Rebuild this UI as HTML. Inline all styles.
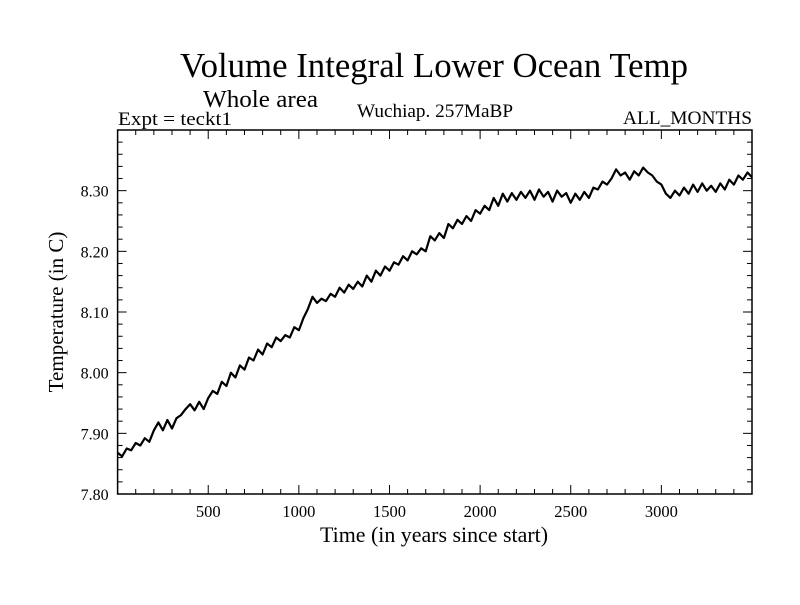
<!DOCTYPE html>
<html><head><meta charset="utf-8"><style>
html,body{margin:0;padding:0;background:#fff}
svg text{font-family:"Liberation Serif",serif;fill:#000}
</style></head><body>
<svg id="chart" width="800" height="600" viewBox="0 0 800 600" xmlns="http://www.w3.org/2000/svg">
<text x="434" y="77" font-size="35" text-anchor="middle" textLength="508" lengthAdjust="spacingAndGlyphs">Volume Integral Lower Ocean Temp</text>
<text x="203" y="107" font-size="24" textLength="115" lengthAdjust="spacingAndGlyphs">Whole area</text>
<text x="118" y="125" font-size="19" textLength="114" lengthAdjust="spacingAndGlyphs">Expt = teckt1</text>
<text x="357" y="117" font-size="19" textLength="156" lengthAdjust="spacingAndGlyphs">Wuchiap. 257MaBP</text>
<text x="623" y="124" font-size="19" textLength="129" lengthAdjust="spacingAndGlyphs">ALL_MONTHS</text>
<text transform="translate(63,312) rotate(-90)" font-size="21" text-anchor="middle">Temperature (in C)</text>
<text x="434" y="542" font-size="22" text-anchor="middle" textLength="228" lengthAdjust="spacingAndGlyphs">Time (in years since start)</text>
<g id="axes"></g>
<g id="series"></g>
<rect x="117.6" y="130" width="634.4" height="364" fill="none" stroke="#000" stroke-width="1.5"/>
</svg>
<script>
const yearStep = 25;
const temps = [7.868,7.862,7.875,7.872,7.884,7.880,7.892,7.886,7.905,7.918,7.905,7.922,7.908,7.925,7.930,7.940,7.948,7.938,7.952,7.940,7.958,
7.970,7.965,7.985,7.978,8.000,7.992,8.012,8.005,8.025,8.020,8.038,8.030,8.048,8.042,8.058,8.052,8.062,8.058,8.075,8.070,
8.090,8.105,8.125,8.115,8.122,8.118,8.130,8.125,8.140,8.132,8.145,8.138,8.150,8.142,8.160,8.150,8.168,8.160,8.175,8.168,
8.182,8.178,8.192,8.185,8.200,8.195,8.205,8.200,8.225,8.218,8.230,8.222,8.245,8.238,8.252,8.245,8.258,8.250,8.268,8.262,
8.275,8.268,8.288,8.275,8.295,8.282,8.296,8.285,8.298,8.288,8.300,8.285,8.302,8.290,8.298,8.282,8.300,8.290,8.296,8.280,
8.295,8.285,8.298,8.288,8.305,8.302,8.315,8.310,8.320,8.335,8.325,8.330,8.318,8.332,8.325,8.338,8.330,8.325,8.315,8.310,
8.295,8.288,8.300,8.292,8.305,8.295,8.310,8.298,8.312,8.300,8.308,8.298,8.312,8.302,8.318,8.310,8.325,8.318,8.330,8.322];
const yTicks = [7.80,7.90,8.00,8.10,8.20,8.30];
const yTickLabels = ["7.80","7.90","8.00","8.10","8.20","8.30"];
const xTicks = [500,1000,1500,2000,2500,3000];
const xTickLabels = ["500","1000","1500","2000","2500","3000"];

const L=117.6,R=752,T=130,B=494, xMin=0,xMax=3500,yMin=7.8,yMax=8.4;
const sx=v=>L+(v-xMin)/(xMax-xMin)*(R-L);
const sy=v=>B-(v-yMin)/(yMax-yMin)*(B-T);
const NS="http://www.w3.org/2000/svg";
const axes=document.getElementById('axes');
function mk(tag,attrs,parent){const e=document.createElementNS(NS,tag);for(const k in attrs)e.setAttribute(k,attrs[k]);parent.appendChild(e);return e;}
for(let v=yMin;v<=yMax+1e-9;v+=0.02){
  const y=sy(v);const major=Math.abs((v-yMin)/0.1-Math.round((v-yMin)/0.1))<1e-6;const len=major?9:5;
  const t1=mk('line',{x1:L,x2:L+len,y1:y,y2:y,stroke:'#000','stroke-width':1},axes);
  
  
  const t2=mk('line',{x1:R,x2:R-len,y1:y,y2:y,stroke:'#000','stroke-width':1},axes);
  
  
}
yTicks.forEach((v,i)=>{
  const t=mk('text',{x:L-9,y:sy(v)+6,'font-size':16,'text-anchor':'end'},axes);
  t.textContent=yTickLabels[i];
  
  
});
for(let v=100;v<xMax;v+=100){
  const x=sx(v);const major=v%500===0;const len=major?9:5;
  const t1=mk('line',{x1:x,x2:x,y1:B,y2:B-len,stroke:'#000','stroke-width':1},axes);
  
  
  const t2=mk('line',{x1:x,x2:x,y1:T,y2:T+len,stroke:'#000','stroke-width':1},axes);
  
  
}
xTicks.forEach((v,i)=>{
  const t=mk('text',{x:sx(v),y:B+23,'font-size':16.5,'text-anchor':'middle'},axes);
  t.textContent=xTickLabels[i];
  
  
});
const pts=temps.map((v,i)=>sx(i*yearStep).toFixed(1)+','+sy(v).toFixed(1)).join(' ');
const line=mk('polyline',{points:pts,fill:'none',stroke:'#000','stroke-width':2.2,'stroke-linejoin':'round'},document.getElementById('series'));


</script>
</body></html>
